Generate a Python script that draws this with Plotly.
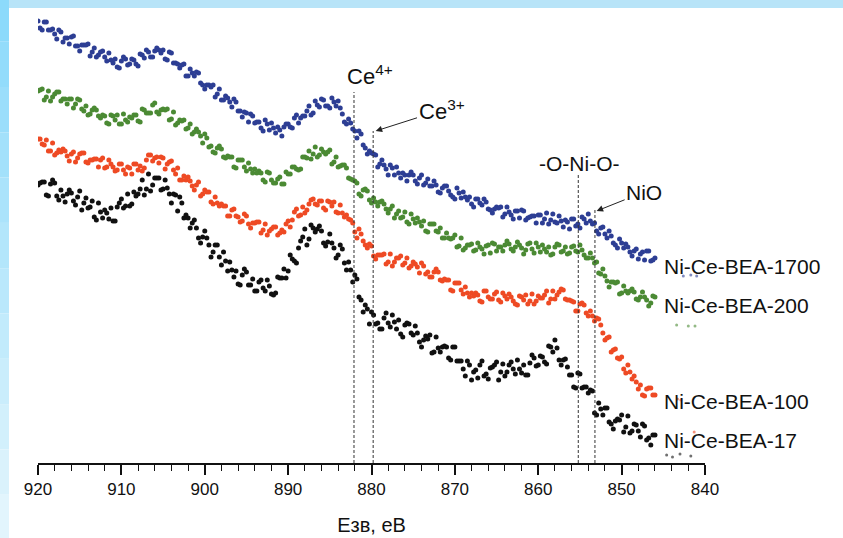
import numpy as np
import plotly.graph_objects as go

# Binding energy grid (eV): first sweep at 920, 919.5, ... ; second sweep offset by 0.25 eV
E_START = 920.0
E_STEP = -0.5
E_OFFSET_B = -0.25

# hand-read intensities (a.u.)
blue_1700 = [442,433,441,433,429,433,421,425,426,417,412,418,419,411,406,411,406,410,400,396,
             402,404,399,403,397,408,413,406,412,413,413,403,410,400,395,399,387,390,391,380,
             374,378,378,369,363,367,361,364,352,346,350,349,340,341,332,339,340,330,333,336,
             339,335,348,345,347,357,350,358,364,357,355,361,362,349,339,340,332,332,318,309,
             310,308,299,298,288,295,296,285,288,288,288,279,288,280,277,282,271,275,277,268,
             264,270,271,263,259,264,260,264,254,250,256,256,249,251,244,252,253,243,246,247,
             248,240,250,243,241,247,236,241,244,237,235,244,249,239,232,235,229,232,220,215,
             220,219,211,212,204,211,212,202,205]
blue_1700_b = [435,441,433,434,424,431,425,419,427,417,418,418,407,415,408,412,402,403,404,395,
               406,398,404,399,409,405,411,406,415,410,404,411,400,399,398,387,394,387,390,378,
               378,376,366,374,363,365,356,361,352,351,341,347,341,335,343,333,335,336,327,339,
               336,345,340,347,352,348,362,356,363,357,365,357,355,341,344,334,325,329,315,312,
               309,296,303,294,298,288,290,290,282,291,282,285,278,284,277,278,270,277,272,266,
               275,265,266,266,256,264,258,261,253,254,255,246,256,248,252,245,252,245,247,240,
               248,244,239,249,240,242,243,234,244,239,246,240,242,240,229,236,225,227,218,224,
               215,216,207,214,209,203,212,203]

green_200 = [372,374,366,362,369,371,364,359,364,359,363,352,348,353,353,345,347,339,347,348,
             339,343,346,348,342,354,350,350,360,349,354,354,344,338,343,343,335,329,334,327,
             329,316,311,315,314,305,306,296,303,303,292,294,294,292,283,291,283,280,286,279,
             289,296,294,294,306,312,309,306,314,309,313,301,296,298,295,284,282,269,273,272,
             260,261,261,259,250,257,249,245,251,239,244,245,237,232,239,239,231,225,230,224,
             228,217,213,218,219,213,216,209,218,220,212,216,218,219,212,221,215,213,220,210,
             216,218,211,208,216,218,212,209,216,212,218,208,205,205,201,189,187,176,181,181,
             170,172,172,171,163,171,163,160,166]
green_200_b = [373,363,372,366,371,362,364,364,355,364,354,357,349,355,347,348,340,348,343,339,
               349,341,345,348,341,353,350,358,351,353,353,343,351,340,342,334,339,331,331,320,
               325,317,310,317,306,307,306,295,303,296,300,290,290,290,281,290,280,284,279,291,
               289,296,293,306,305,304,316,308,311,311,299,306,297,298,285,283,280,267,274,263,
               265,257,262,254,254,245,252,246,241,249,240,241,242,231,239,232,235,225,225,225,
               216,225,215,218,212,220,214,217,210,219,216,212,222,214,216,218,209,219,214,220,
               211,214,216,209,219,211,216,210,217,211,213,205,210,200,190,194,182,181,180,169,
               177,170,174,164,166,166,157,167]

red_100 = [324,319,323,312,308,313,314,307,309,301,309,310,300,303,304,303,295,303,296,293,
           299,289,295,299,293,292,303,308,305,300,305,299,302,289,283,287,286,277,278,267,
           273,271,259,260,259,257,247,254,246,242,247,235,240,241,233,228,234,236,230,231,
           242,243,254,248,250,259,264,258,262,253,261,261,250,250,248,243,231,234,222,215,
           217,204,208,209,201,197,205,207,200,195,201,196,200,189,186,191,191,182,183,173,
           180,180,169,170,170,170,162,172,166,164,171,161,167,169,162,158,166,168,162,159,
           167,165,172,164,164,171,173,163,162,152,159,158,147,147,145,138,123,126,113,105,
           106,90,91,87,74,68,74,75,68]
red_100_b = [324,318,312,320,310,311,312,302,311,305,310,301,303,304,296,305,296,299,292,299,
             293,296,289,299,297,295,308,302,306,306,294,301,293,295,283,283,282,273,281,269,
             271,261,266,257,257,247,253,247,241,249,239,240,241,230,239,232,236,228,233,239,
             236,251,247,256,253,263,259,262,255,262,257,251,258,246,244,240,225,229,218,219,
             207,208,208,199,209,201,205,198,205,197,199,190,197,191,186,194,183,184,183,172,
             180,173,176,166,167,168,161,172,164,169,163,170,164,166,159,167,163,159,169,162,
             165,168,160,172,168,174,164,163,161,152,160,150,152,142,144,130,125,111,114,104,
             94,98,84,81,78,67,75,68]

black_17 = [278,281,268,279,280,263,267,269,270,258,272,260,255,262,243,251,253,244,242,256,
            264,257,257,271,269,283,274,272,285,285,274,275,260,268,266,245,245,240,235,220,
            232,218,211,218,198,202,201,186,179,188,191,178,172,181,175,183,169,170,185,194,
            192,204,200,222,234,224,235,234,232,217,229,215,208,214,193,193,188,166,151,154,
            151,139,134,145,140,148,134,129,138,139,128,130,116,127,128,111,115,116,116,103,
            116,102,94,102,83,93,98,87,84,96,101,91,87,98,94,103,90,88,100,105,
            98,106,99,116,123,103,103,96,88,75,89,76,70,72,48,54,55,41,34,44,
            48,36,30,39,32,39,23,18,28]
black_17_b = [280,281,267,283,267,273,261,273,262,266,253,265,256,246,260,245,250,255,242,260,
              255,269,259,267,274,268,289,278,285,273,283,269,269,252,260,248,235,243,225,226,
              225,206,218,206,211,192,193,192,178,194,178,184,172,183,172,177,168,186,185,185,
              208,202,215,226,218,238,231,237,220,221,220,205,218,200,201,181,184,163,158,139,
              148,140,134,150,136,141,143,126,140,130,137,121,123,124,110,126,111,117,105,116,
              102,102,87,98,91,85,102,89,95,98,83,99,91,101,89,94,98,88,108,97,
              107,101,117,111,115,98,104,88,76,90,75,76,73,50,60,48,55,39,42,43,
              31,47,32,38,26,37,25,28]

# a few stray points beyond the end of the scans
stray_blue_x = [842.6, 841.7, 841.0]
stray_blue_y = [187, 188, 187]
stray_green_x = [843.4, 842.0, 841.2]
stray_green_y = [138, 137, 137]
stray_red_x = [843.3, 842.9, 841.3]
stray_red_y = [64, 63, 31]
stray_black_x = [844.6, 843.9, 843.0, 841.7]
stray_black_y = [8, 6, 9, 7]

series_names = ["Ni-Ce-BEA-1700", "Ni-Ce-BEA-200", "Ni-Ce-BEA-100", "Ni-Ce-BEA-17"]
series_a = [blue_1700, green_200, red_100, black_17]
series_b = [blue_1700_b, green_200_b, red_100_b, black_17_b]
series_colors = ["#2d3e94", "#4b8a34", "#ee4a24", "#111111"]
stray_x = [stray_blue_x, stray_green_x, stray_red_x, stray_black_x]
stray_y = [stray_blue_y, stray_green_y, stray_red_y, stray_black_y]
label_y = [197, 158, 62, 23]

# reference lines (eV) with top heights
ref_E = [882.1, 879.8, 855.2, 853.2]
ref_top = [371, 332, 288, 255]

FONT = "Arial, 'Liberation Sans', sans-serif"

fig = go.Figure()
for name, va, vb, col, sx, sy in zip(series_names, series_a, series_b, series_colors, stray_x, stray_y):
    xa = E_START + E_STEP * np.arange(len(va))
    xb = E_START + E_OFFSET_B + E_STEP * np.arange(len(vb))
    x = np.concatenate([xa, xb])
    y = list(va) + list(vb)
    fig.add_trace(go.Scatter(x=x, y=y, mode="markers", name=name,
                             marker=dict(size=5, color=col, line=dict(width=0)),
                             showlegend=False))
    fig.add_trace(go.Scatter(x=sx, y=sy, mode="markers", showlegend=False,
                             marker=dict(size=3, color=col, opacity=0.6, line=dict(width=0))))

shapes = []
# light-blue frame
shapes.append(dict(type="rect", xref="paper", yref="paper", x0=-0.06, x1=1.21, y0=1.0044, y1=1.03,
                   fillcolor="#b8e4f8", line=dict(width=0), layer="below"))
n = 12
top, bot = 1.03, -0.17
for i in range(n):
    t = i / (n - 1)
    r = int(0x8c + (0xe2 - 0x8c) * t)
    g = int(0xda + (0xf5 - 0xda) * t)
    b = int(0xfb + (0xfd - 0xfb) * t)
    shapes.append(dict(type="rect", xref="paper", yref="paper", x0=-0.06, x1=-0.0435,
                       y0=top - (i + 1) * (top - bot) / n, y1=top - i * (top - bot) / n,
                       fillcolor=f"rgb({r},{g},{b})", line=dict(width=0), layer="below"))
# dashed reference lines
for e, ytop in zip(ref_E, ref_top):
    shapes.append(dict(type="line", xref="x", yref="y", x0=e, x1=e, y0=0, y1=ytop,
                       line=dict(color="#333333", width=1, dash="3px,2px")))

annotations = []
for name, ly in zip(series_names, label_y):
    annotations.append(dict(x=845.2, y=ly, xref="x", yref="y", text=name, showarrow=False,
                            xanchor="left", yanchor="middle", font=dict(size=21, color="#111", family=FONT)))
annotations += [
    dict(x=880.2, y=388, xref="x", yref="y", text="Ce<sup>4+</sup>", showarrow=False,
         font=dict(size=22, color="#111", family=FONT)),
    dict(x=879.5, y=332, ax=871.6, ay=353, xref="x", yref="y", axref="x", ayref="y",
         text="Ce<sup>3+</sup>", showarrow=True, arrowhead=2, arrowsize=1.3, arrowwidth=1,
         arrowcolor="#222", font=dict(size=22, color="#111", family=FONT)),
    dict(x=855.1, y=300, xref="x", yref="y", text="-O-Ni-O-", showarrow=False,
         font=dict(size=21, color="#111", family=FONT)),
    dict(x=853.0, y=252, ax=847.3, ay=271, xref="x", yref="y", axref="x", ayref="y",
         text="NiO", showarrow=True, arrowhead=2, arrowsize=1.3, arrowwidth=1,
         arrowcolor="#222", font=dict(size=21, color="#111", family=FONT)),
]

fig.update_layout(
    width=843, height=538,
    margin=dict(l=38, r=138, t=10, b=75, autoexpand=False),
    paper_bgcolor="white", plot_bgcolor="white",
    shapes=shapes, annotations=annotations,
    font=dict(family=FONT, color="#111"),
    xaxis=dict(range=[920, 840], dtick=10, tick0=840, showgrid=False, zeroline=False,
               automargin=False,
               showline=True, linecolor="#111", linewidth=1.5,
               ticks="outside", ticklen=10, tickwidth=1.5, tickcolor="#111",
               minor=dict(ticks="outside", ticklen=6, dtick=2, tickwidth=1.2, tickcolor="#111", showgrid=False),
               tickfont=dict(size=17, family=FONT, color="#111"),
               title=dict(text="Езв, еВ", font=dict(size=20, family=FONT, color="#111"), standoff=20)),
    yaxis=dict(range=[0, 453], visible=False, showgrid=False, zeroline=False, automargin=False),
)

fig.write_html("out.html")
